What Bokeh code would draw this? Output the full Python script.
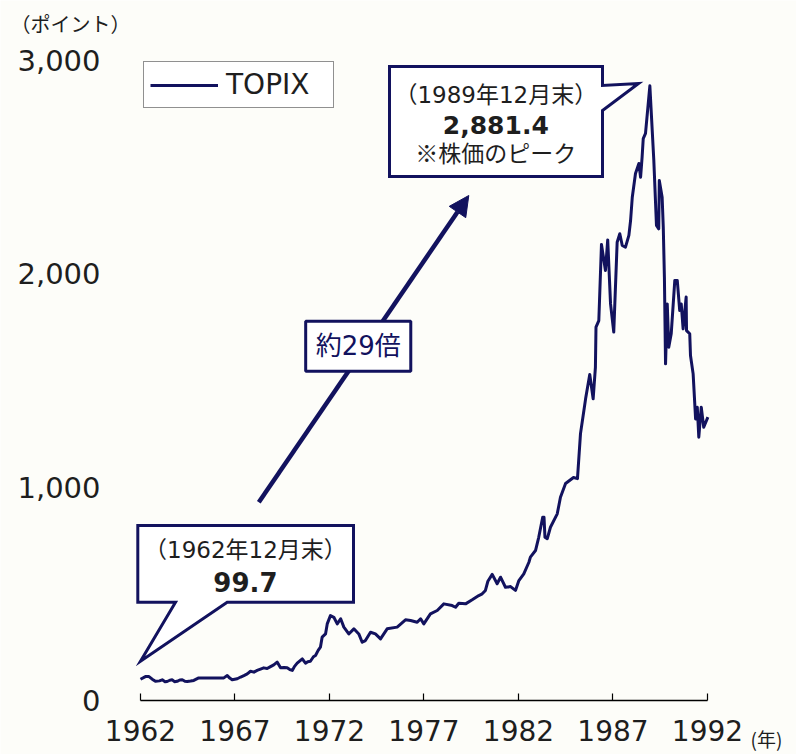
from bokeh.plotting import figure
from bokeh.models import (Range1d, FixedTicker, NumeralTickFormatter, Label, Arrow,
                          NormalHead, Legend, LegendItem)
from bokeh.embed import file_html
from bokeh.resources import INLINE

# ---------------- data ----------------
# x: year position on the axis (tick "1962" = end of 1962), y: TOPIX points
years = [1962.00, 1962.26, 1962.45, 1962.62, 1962.79, 1963.00, 1963.15, 1963.30, 1963.41, 1963.55,
         1963.68, 1963.80, 1963.94, 1964.08, 1964.21, 1964.35, 1964.47, 1964.65, 1964.82, 1965.08,
         1966.41, 1966.59, 1966.72, 1966.85, 1967.12, 1967.30, 1967.47, 1967.65, 1967.82, 1968.00,
         1968.17, 1968.35, 1968.52, 1968.70, 1968.88, 1969.05, 1969.23, 1969.41, 1969.60, 1969.76,
         1969.90, 1970.03, 1970.15, 1970.29, 1970.45, 1970.56, 1970.73, 1970.85, 1970.99, 1971.15,
         1971.26, 1971.40, 1971.52, 1971.61, 1971.79, 1971.88, 1972.05, 1972.23, 1972.41, 1972.59,
         1972.76, 1973.02, 1973.29, 1973.55, 1973.73, 1973.90, 1974.17, 1974.43, 1974.70, 1975.05,
         1975.58, 1976.02, 1976.29, 1976.64, 1976.82, 1976.99, 1977.34, 1977.70, 1978.05, 1978.49,
         1978.67, 1978.84, 1979.20, 1979.55, 1979.90, 1980.08, 1980.25, 1980.38, 1980.61, 1980.87,
         1981.05, 1981.31, 1981.58, 1981.84, 1982.02, 1982.28, 1982.55, 1982.63, 1982.90, 1983.07,
         1983.28, 1983.35, 1983.40, 1983.52, 1983.69, 1984.05, 1984.22, 1984.49, 1984.91, 1985.12,
         1985.28, 1985.46, 1985.55, 1985.77, 1985.95, 1986.07, 1986.10, 1986.25, 1986.39, 1986.60,
         1986.72, 1986.87, 1987.04, 1987.22, 1987.36, 1987.49, 1987.66, 1987.84, 1987.93, 1988.02,
         1988.19, 1988.37, 1988.46, 1988.54, 1988.60, 1988.72, 1988.95, 1989.16, 1989.30, 1989.42,
         1989.45, 1989.60, 1989.66, 1989.72, 1989.78, 1989.87, 1989.95, 1990.08, 1990.27, 1990.40,
         1990.53, 1990.61, 1990.71, 1990.87, 1990.89, 1991.06, 1991.10, 1991.24, 1991.37, 1991.46,
         1991.54, 1991.67, 1991.80, 1992.02]
topix = [99.7, 112, 112, 100, 90, 92, 97, 88, 89, 95,
         97, 88, 90, 96, 97, 90, 89, 91, 94, 106,
         106, 117, 105, 97, 102, 110, 117, 125, 137, 133,
         141, 147, 153, 150, 159, 167, 180, 153, 155, 153,
         145, 141, 160, 175, 187, 195, 175, 182, 184, 205,
         211, 235, 250, 297, 312, 359, 398, 390, 359, 383,
         344, 312, 336, 312, 273, 281, 320, 312, 289, 336,
         344, 378, 375, 367, 383, 359, 406, 422, 453, 445,
         437, 456, 453, 472, 492, 500, 516, 559, 591, 547,
         578, 531, 534, 516, 562, 594, 648, 672, 703, 765,
         859, 859, 765, 758, 812, 875, 953, 1017, 1045, 1040,
         1251, 1359, 1414, 1528, 1414, 1563, 1750, 1781, 2138, 2016,
         2159, 1859, 1727, 2148, 2188, 2133, 2125, 2180, 2250, 2359,
         2470, 2517, 2453, 2547, 2634, 2658, 2881.4, 2531, 2227, 2211,
         2438, 2359, 2219, 1984, 1578, 1859, 1656, 1719, 1969, 1969,
         1828, 1859, 1742, 1891, 1734, 1719, 1617, 1531, 1320, 1375,
         1234, 1375, 1281, 1328]

x_ticks = [1962, 1967, 1972, 1977, 1982, 1987, 1992]
y_ticks = [0, 1000, 2000, 3000]
series_name = "TOPIX"
start_label = "（1962年12月末）"
start_value = "99.7"
peak_label = "（1989年12月末）"
peak_value = "2,881.4"
peak_note = "※株価のピーク"
ratio_label = "約29倍"
y_unit = "（ポイント）"
x_unit = "(年)"

# ---------------- styling ----------------
NAVY = "#12125e"
TXT = "#1e1e1e"
BG = "#fdfdf9"
LATIN = "DejaVu Sans"
JP = "Noto Sans CJK JP"
MIX = "DejaVu Sans, Noto Sans CJK JP"

W, H = 796, 754
p = figure(width=W, height=H, output_backend="svg", toolbar_location=None,
           x_range=Range1d(1954.5926, 1996.7090), y_range=Range1d(-253.125, 3281.25),
           min_border=0, min_border_left=0, min_border_right=0,
           min_border_top=0, min_border_bottom=0,
           background_fill_color=BG, border_fill_color=BG, outline_line_color=None)
p.grid.visible = False

# axes (drawn inside the frame at fixed positions)
xa = p.xaxis[0]
xa.fixed_location = 0
xa.ticker = FixedTicker(ticks=x_ticks)
xa.formatter = NumeralTickFormatter(format="0")
xa.bounds = (x_ticks[0], x_ticks[-1])
xa.major_tick_in = 7
xa.major_tick_out = 0
xa.major_tick_line_color = "black"
xa.major_tick_line_width = 1.2
xa.minor_tick_line_color = None
xa.axis_line_color = "black"
xa.axis_line_width = 1.5
xa.major_label_text_font = LATIN
xa.major_label_text_font_size = "28px"
xa.major_label_text_color = TXT
xa.major_label_standoff = 19

ya = p.yaxis[0]
ya.fixed_location = 1961.4709
ya.ticker = FixedTicker(ticks=y_ticks)
ya.formatter = NumeralTickFormatter(format="0,0")
ya.axis_line_color = None
ya.major_tick_line_color = None
ya.minor_tick_line_color = None
ya.major_label_text_font = LATIN
ya.major_label_text_font_size = "29px"
ya.major_label_text_color = TXT
ya.major_label_standoff = 24

# data line
r = p.line(years, topix, line_color=NAVY, line_width=3, line_join="round")

# callout shapes (annotation geometry, data units)
peak_box_x = [1975.175, 1986.444, 1986.444, 1988.349, 1986.444, 1986.444, 1975.175]
peak_box_y = [2971.9, 2971.9, 2882.8, 2892.2, 2765.6, 2456.3, 2456.3]
start_box_x = [1961.857, 1973.270, 1973.270, 1966.587, 1962.0, 1963.852, 1961.857]
start_box_y = [820.3, 820.3, 460.8, 460.8, 184.2, 460.8, 460.8]
p.patch(peak_box_x, peak_box_y, fill_color="white", line_color=NAVY, line_width=3,
        line_join="miter")
p.patch(start_box_x, start_box_y, fill_color="white", line_color=NAVY, line_width=3,
        line_join="miter")

def lab(x, y, text, size, font=JP, bold=False, color=TXT, align="center", **kw):
    l = Label(x=x, y=y, text=text, text_font=font, text_font_size=size,
              text_font_style="bold" if bold else "normal", text_color=color,
              text_align=align, text_baseline="middle", **kw)
    p.add_layout(l)
    return l

lab(1980.80, 2840.6, peak_label, "23px", font=MIX)
lab(1980.80, 2697.7, peak_value, "25px", font=LATIN, bold=True)
lab(1980.80, 2568.8, peak_note, "23px")
lab(1967.55, 707.8, start_label, "23px", font=MIX)
lab(1967.55, 554.5, start_value, "26px", font=LATIN, bold=True)

# arrow
p.add_layout(Arrow(end=NormalHead(size=20, fill_color=NAVY, line_color=NAVY, line_width=1),
                   x_start=1968.259, y_start=929.5, x_end=1979.370, y_end=2367.2,
                   line_color=NAVY, line_width=4.5))
lab(1973.52, 1660.3, ratio_label, "26px", font=MIX, color=NAVY,
    background_fill_color="white", border_line_color=NAVY, border_line_width=3,
    padding=10)

# unit labels
lab(1958.296, 3173.0, y_unit, "20px")
lab(1994.275, -180.0, x_unit, "19px", align="left")

# legend
legend = Legend(items=[LegendItem(label=series_name, renderers=[r])], location=(143, 646),
                margin=0, padding=6, glyph_width=68, glyph_height=30, label_standoff=8,
                label_width=101, label_height=30, spacing=0,
                label_text_font=LATIN, label_text_font_size="28px",
                label_text_color=TXT, border_line_color="#222222", border_line_width=1,
                background_fill_color="white", background_fill_alpha=1)
p.add_layout(legend)

open("out.html", "w").write(file_html(p, INLINE))
